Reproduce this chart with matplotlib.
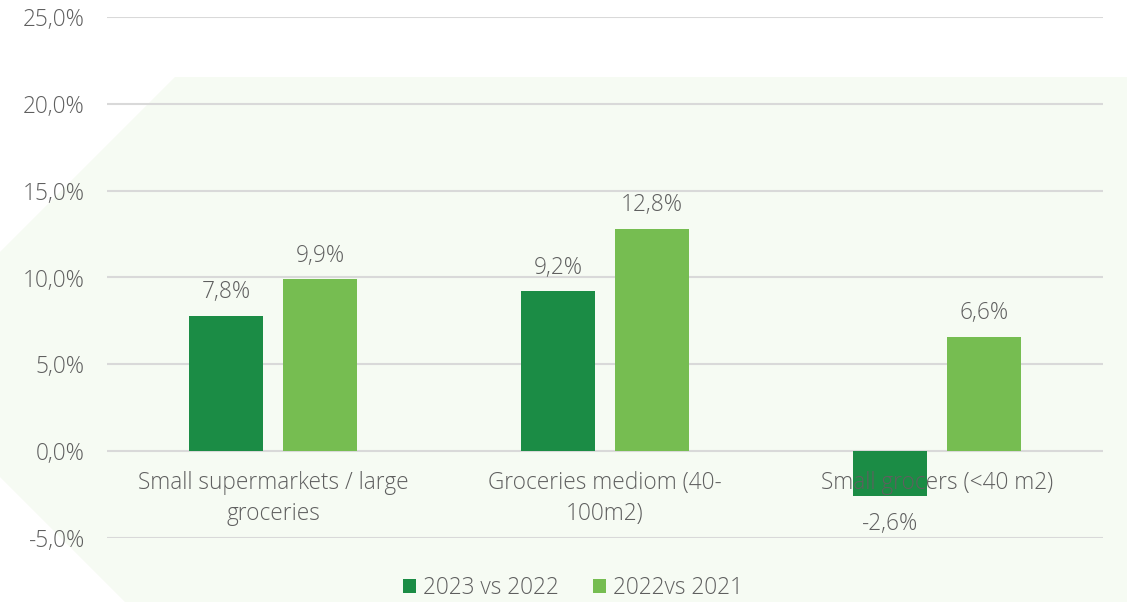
import matplotlib
matplotlib.use("Agg")
import matplotlib.pyplot as plt
from matplotlib.patches import Polygon, Patch
from matplotlib.ticker import FuncFormatter, MultipleLocator
import numpy as np

categories = ["Small supermarkets / large\ngroceries",
              "Groceries mediom (40-\n100m2)",
              "Small grocers (<40 m2)"]
series_names = ["2023 vs 2022", "2022vs 2021"]
growth_2023 = [7.8, 9.2, -2.6]
growth_2022 = [9.9, 12.8, 6.6]

dark_green = "#1b8c45"
light_green = "#76bd51"
text_gray = "#5f5f5f"

plt.rcParams['font.family'] = ['Open Sans', 'DejaVu Sans']
plt.rcParams['font.weight'] = 300
fs = 16.3

W, H = 1127, 602
fig = plt.figure(figsize=(W / 100, H / 100), dpi=100, facecolor="white")

# pale backdrop shape behind the plot
px = [(175, 77), (W, 77), (W, H), (125, H), (0, 477), (0, 252)]
bg = Polygon([(x / W, 1 - y / H) for x, y in px], closed=True,
             transform=fig.transFigure, facecolor="#f6fbf3", edgecolor="none", zorder=-5)
fig.patches.append(bg)

ax = fig.add_axes([107 / W, 1 - 538 / H, 996 / W, 521 / H])
ax.set_zorder(2)
ax.patch.set_visible(False)

x = np.arange(len(categories))
bw = 0.222
off = 0.142
b1 = ax.bar(x - off, growth_2023, bw, color=dark_green, zorder=2)
b2 = ax.bar(x + off, growth_2022, bw, color=light_green, zorder=2)

ax.set_xlim(-0.5, 2.5)
ax.set_ylim(-5, 25)
ax.yaxis.set_major_locator(MultipleLocator(5))
ax.yaxis.set_major_formatter(FuncFormatter(lambda v, p: f"{v:.1f}%".replace(".", ",")))
ax.grid(axis="y", color="#d9d9d9", linewidth=1.5, zorder=1)
ax.set_axisbelow(True)
for s in ax.spines.values():
    s.set_visible(False)
ax.tick_params(axis="y", length=0, pad=16, labelsize=fs, labelcolor=text_gray)
ax.set_xticks([])

# value labels
for bars, vals in ((b1, growth_2023), (b2, growth_2022)):
    for rect, v in zip(bars, vals):
        cx = rect.get_x() + rect.get_width() / 2
        dy = 17 if v >= 0 else -20
        ax.annotate(f"{v:.1f}%".replace(".", ","), (cx, v), xytext=(0, dy),
                    textcoords="offset points", ha="center", va="center",
                    fontsize=fs, color=text_gray, zorder=5)

# category labels, drawn over the bars
for i, name in enumerate(categories):
    ax.annotate(name, (i, 0), xytext=(0, -14), textcoords="offset points",
                ha="center", va="top", fontsize=fs, color=text_gray,
                linespacing=1.42, zorder=5)

handles = [Patch(facecolor=dark_green), Patch(facecolor=light_green)]
fig.legend(handles, series_names, loc="center", bbox_to_anchor=(573 / W, 1 - 588 / H),
           ncol=2, frameon=False, fontsize=fs, labelcolor=text_gray,
           handlelength=0.6, handleheight=0.6, handletextpad=0.3, columnspacing=1.5)

fig.savefig("out.png", dpi=100, facecolor="white")
